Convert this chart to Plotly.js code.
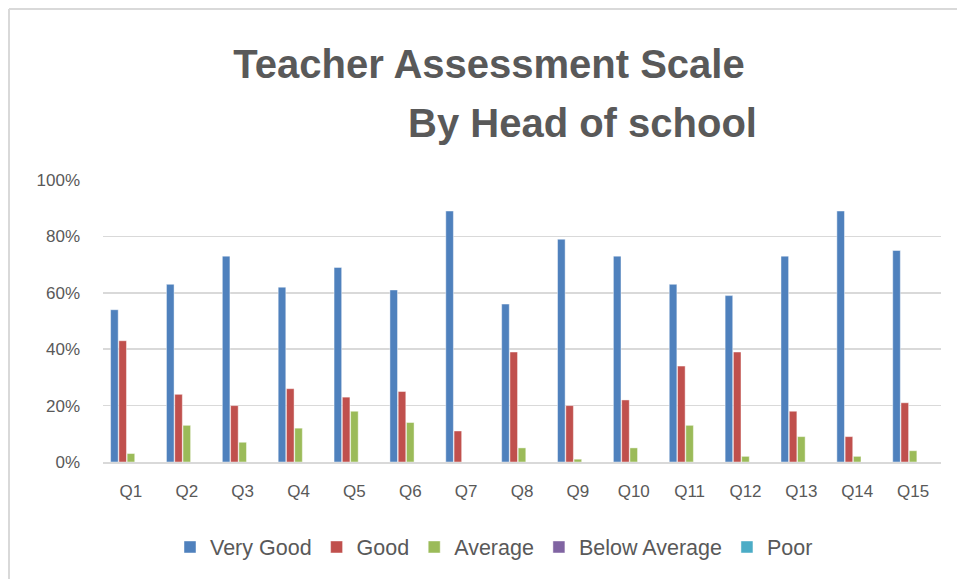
<!DOCTYPE html>
<html>
<head>
<meta charset="utf-8">
<script src="https://cdn.plot.ly/plotly-3.0.1.min.js"></script>
<style>
  html, body { margin: 0; padding: 0; background: #ffffff; }
  #chart { width: 957px; height: 579px; }
</style>
</head>
<body>
<div id="chart"></div>
<script>
const categories = ["Q1","Q2","Q3","Q4","Q5","Q6","Q7","Q8","Q9","Q10","Q11","Q12","Q13","Q14","Q15"];
const seriesNames = ["Very Good", "Good", "Average", "Below Average", "Poor"];
const veryGood     = [54, 63, 73, 62, 69, 61, 89, 56, 79, 73, 63, 59, 73, 89, 75];
const good         = [43, 24, 20, 26, 23, 25, 11, 39, 20, 22, 34, 39, 18,  9, 21];
const average      = [ 3, 13,  7, 12, 18, 14,  0,  5,  1,  5, 13,  2,  9,  2,  4];
const belowAverage = [ 0,  0,  0,  0,  0,  0,  0,  0,  0,  0,  0,  0,  0,  0,  0];
const poor         = [ 0,  0,  0,  0,  0,  0,  0,  0,  0,  0,  0,  0,  0,  0,  0];
const yTickValues  = [0, 20, 40, 60, 80, 100];
const titleLine1 = "Teacher Assessment Scale";
const titleLine2 = "By Head of school";

const colors = ["#4F81BD", "#C0504D", "#9BBB59", "#8064A2", "#4BACC6"];
const seriesValues = [veryGood, good, average, belowAverage, poor];
const FONT = '"Liberation Sans", Arial, sans-serif';
const TEXT = "#595959";

const traces = seriesValues.map((vals, i) => ({
  type: "bar",
  name: seriesNames[i],
  x: categories,
  y: vals,
  marker: { color: colors[i], line: { color: "rgba(255,255,255,0.6)", width: 0.75 } },
  hoverinfo: "x+y+name"
}));

// plot area in pixels: left 103, right 941, top 180, bottom 462
const L = 103, R = 941, T = 180, B = 462, W = 957, H = 579;
const pw = R - L, ph = B - T;
const px = v => (v - L) / pw;
const py = v => (B - v) / ph;

const layout = {
  width: W, height: H,
  margin: { l: L, r: W - R, t: T, b: H - B, pad: 0 },
  paper_bgcolor: "#ffffff",
  plot_bgcolor: "#ffffff",
  font: { family: FONT, color: TEXT, size: 17 },
  barmode: "group",
  bargap: 0.26,
  bargroupgap: 0.08,
  title: {
    text: titleLine1,
    font: { family: FONT, size: 40, color: TEXT, weight: "bold" },
    x: 489 / W, xanchor: "center", xref: "container",
    y: 1 - 64 / H, yanchor: "middle", yref: "container"
  },
  annotations: [{
    text: titleLine2,
    showarrow: false,
    xref: "paper", yref: "paper",
    x: px(582), y: py(123),
    xanchor: "center", yanchor: "middle",
    font: { family: FONT, size: 40, color: TEXT, weight: "bold" }
  }],
  xaxis: {
    type: "category",
    showgrid: false,
    showline: true, linecolor: "#d9d9d9", linewidth: 1.5,
    ticks: "", ticklabelstandoff: 13,
    tickfont: { family: FONT, size: 17, color: TEXT },
    fixedrange: true
  },
  yaxis: {
    range: [0, 100],
    tickvals: yTickValues,
    ticktext: yTickValues.map(v => v + "%"),
    showgrid: true, gridcolor: "#d9d9d9", gridwidth: 1.5,
    zeroline: false, showline: false,
    ticks: "", ticklabelstandoff: 22,
    tickfont: { family: FONT, size: 17, color: TEXT },
    fixedrange: true
  },
  legend: {
    orientation: "h",
    x: px(494), xanchor: "center",
    y: py(547), yanchor: "middle",
    font: { family: FONT, size: 21.5, color: TEXT },
    itemwidth: 30,
    traceorder: "normal"
  },
  shapes: [
    { type: "line", xref: "paper", yref: "paper", x0: px(9), x1: px(9), y0: py(9), y1: py(H + 5),
      line: { color: "#d9d9d9", width: 2 } },
    { type: "line", xref: "paper", yref: "paper", x0: px(9), x1: px(W + 5), y0: py(9), y1: py(9),
      line: { color: "#d9d9d9", width: 2 } }
  ],
  showlegend: true
};

Plotly.newPlot("chart", traces, layout, { displayModeBar: false, staticPlot: true });
</script>
</body>
</html>
